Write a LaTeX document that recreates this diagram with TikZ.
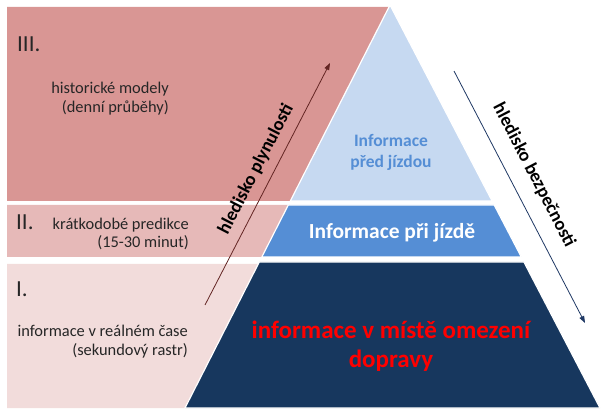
\documentclass[tikz,border=0pt]{standalone}
\usepackage{fontspec}
\setmainfont{Carlito}
\usetikzlibrary{arrows.meta}
\definecolor{bandIII}{HTML}{D99694}
\definecolor{bandII}{HTML}{E6B9B8}
\definecolor{bandI}{HTML}{F2DCDB}
\definecolor{tiertop}{HTML}{C6D9F1}
\definecolor{tiermid}{HTML}{558ED5}
\definecolor{tierbot}{HTML}{17375E}
\definecolor{arrowred}{HTML}{632523}
\definecolor{arrowblue}{HTML}{1F3864}
\definecolor{txtdark}{HTML}{262626}
\tikzset{
  tier/.style={draw=white, line width=1.2pt, line join=miter},
  roman/.style={anchor=west, inner sep=0pt, text=txtdark, font=\fontsize{23}{27}\selectfont},
  bandtext/.style={anchor=east, align=right, inner sep=0pt, text=txtdark, font=\fontsize{16.4}{18.8}\selectfont},
  viewarrow/.style={line width=0.8pt, -{Triangle[length=7pt,width=5pt]}},
  viewlabel/.style={inner sep=0pt, font=\fontsize{18.5}{20}\selectfont\bfseries, text=black}
}
\begin{document}
\begin{tikzpicture}[x=1pt,y=-1pt]
\useasboundingbox (0,0) rectangle (612,419);
% left bands
\fill[bandIII] (7,7) -- (389,7) -- (290.3,201) -- (7,201) -- cycle;
\fill[bandII] (7,205) -- (288.3,205) -- (261.8,257) -- (7,257) -- cycle;
\fill[bandI] (7,264) -- (258.3,264) -- (185,408) -- (7,408) -- cycle;
% pyramid tiers
\filldraw[tier, fill=tiertop] (390,5) -- (492.1,201) -- (290.3,201) -- cycle;
\filldraw[tier, fill=tiermid] (288.3,205) -- (494.2,205) -- (521.3,257) -- (261.8,257) -- cycle;
\filldraw[tier, fill=tierbot] (259.3,262) -- (523.9,262) -- (600,408) -- (185,408) -- cycle;
% band labels
\node[roman] (r3) at (17,44) {III.};
\node[roman] (r2) at (16,222) {II.};
\node[roman] (r1) at (16,289) {I.};
\node[bandtext] (t3) at (169,99) {historické modely\\(denní průběhy)};
\node[bandtext] (t2) at (189,234) {krátkodobé predikce\\(15-30 minut)};
\node[bandtext] (t1) at (188,342) {informace v reálném čase\\(sekundový rastr)};
% pyramid labels
\node[align=center, inner sep=0pt, text=tiermid, font=\fontsize{17.5}{21}\selectfont\bfseries] (p3) at (391,152) {Informace\\před jízdou};
\node[inner sep=0pt, text=white, font=\fontsize{21.5}{24}\selectfont\bfseries] (p2) at (392,233) {Informace při jízdě};
\node[align=center, inner sep=0pt, text=red, font=\fontsize{25}{28.5}\selectfont\bfseries] (p1) at (391,346) {informace v místě omezení\\dopravy};
% view arrows
\coordinate (a1s) at (205,305);
\coordinate (a1e) at (330,63);
\coordinate (a2s) at (454,71);
\coordinate (a2e) at (585,323);
\draw[viewarrow, arrowred] (a1s) -- (a1e);
\draw[viewarrow, arrowblue] (a2s) -- (a2e);
\node[viewlabel, rotate=62.7] (l1) at (256,169) {hledisko plynulosti};
\node[viewlabel, rotate=-62.6] (l2) at (534,175) {hledisko bezpečnosti};
\end{tikzpicture}
\end{document}
